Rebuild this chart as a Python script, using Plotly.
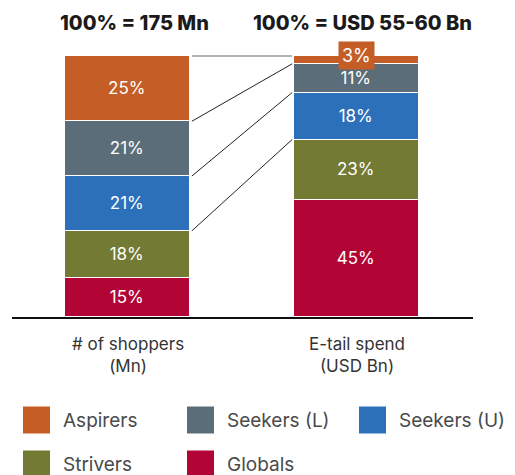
import plotly.graph_objects as go

# Segment shares (%) for each column
segments = ["Globals", "Strivers", "Seekers (U)", "Seekers (L)", "Aspirers"]
shoppers_pct = [15, 18, 21, 21, 25]
spend_pct = [45, 23, 18, 11, 3]
colors = {
    "Aspirers": "#C45E26",
    "Seekers (L)": "#5B6D78",
    "Seekers (U)": "#2B70B9",
    "Strivers": "#727A33",
    "Globals": "#B20535",
}
column_labels = ["# of shoppers<br>(Mn)", "E-tail spend<br>(USD Bn)"]
column_titles = ["100% = 175 Mn", "100% = USD 55-60 Bn"]
legend_rows = [["Aspirers", "Seekers (L)", "Seekers (U)"], ["Strivers", "Globals"]]

W, H = 515, 475
ML, MR, MT, MB = 12, 42, 40, 158
PLOT_W = W - ML - MR
PLOT_H = H - MT - MB
BAR_W = 0.546
XPOS = [0, 1]
X_RANGE = [-0.5044, 1.5087]
Y_MAX = PLOT_H / 2.61

FONT = "Inter"


def px(x):
    return (x - ML) / PLOT_W


def py(y):
    return (H - MB - y) / PLOT_H


fig = go.Figure()

for i, seg in enumerate(segments):
    vals = [shoppers_pct[i], spend_pct[i]]
    texts = [f"{v}%" if v >= 5 else "" for v in vals]
    fig.add_trace(go.Bar(
        x=XPOS, y=vals, width=BAR_W, name=seg,
        marker=dict(color=colors[seg], line=dict(color="white", width=1.5)),
        text=texts, textposition="inside", insidetextanchor="middle",
        constraintext="none",
        textfont=dict(family=FONT, size=17, color="white"),
        hoverinfo="skip", showlegend=False,
    ))

# Small segments get their label on a tab above the bar
for col, vals in enumerate([shoppers_pct, spend_pct]):
    for i, v in enumerate(vals):
        if v < 5:
            top = sum(vals[: i + 1])
            fig.add_annotation(
                x=XPOS[col], y=top, xref="x", yref="y",
                xanchor="center", yanchor="middle",
                text=f"{v}%", showarrow=False, yshift=1,
                font=dict(family=FONT, size=18, color="white"),
                bgcolor=colors[segments[i]], borderpad=3,
            )

# Connectors between matching segment boundaries
gap = 0.008
cum_a, cum_b = 0, 0
for i in range(len(segments)):
    cum_a += shoppers_pct[i]
    cum_b += spend_pct[i]
    if i == 0:
        continue
    fig.add_shape(
        type="line", xref="x", yref="y",
        x0=XPOS[0] + BAR_W / 2 + gap, y0=cum_a,
        x1=XPOS[1] - BAR_W / 2 - gap, y1=cum_b,
        line=dict(color="#222222" if i < len(segments) - 1 else "#666666", width=1),
    )

# Column titles
for col, t in enumerate(column_titles):
    fig.add_annotation(
        x=px([134, 362][col]), y=py(23), xref="paper", yref="paper",
        xanchor="center", yanchor="middle",
        text=t, showarrow=False,
        font=dict(family=FONT, size=20, color="#1a1a1a", weight=800),
    )

# Column labels under the baseline
for col, t in enumerate(column_labels):
    fig.add_annotation(
        x=XPOS[col], y=py(332), xref="x", yref="paper",
        xanchor="center", yanchor="top",
        text=t, showarrow=False, align="center",
        font=dict(family=FONT, size=17, color="#333333"),
    )

# Legend drawn as swatches with labels
col_x = [23, 187, 359]
row_y = [420, 464]
for r, row in enumerate(legend_rows):
    for c, seg in enumerate(row):
        x0 = col_x[c]
        yc = row_y[r]
        fig.add_shape(
            type="rect", xref="paper", yref="paper",
            x0=px(x0), x1=px(x0 + 27), y0=py(yc - 13.5), y1=py(yc + 13.5),
            fillcolor=colors[seg], line=dict(width=0),
        )
        fig.add_annotation(
            x=px(x0 + 38), y=py(yc), xref="paper", yref="paper",
            xanchor="left", yanchor="middle", text=seg, showarrow=False,
            font=dict(family=FONT, size=19, color="#4a4a4a"),
        )

fig.update_layout(
    barmode="stack",
    width=W, height=H,
    margin=dict(l=ML, r=MR, t=MT, b=MB),
    paper_bgcolor="white", plot_bgcolor="white",
    xaxis=dict(range=X_RANGE, showticklabels=False, showgrid=False, zeroline=False,
               showline=True, linecolor="#111111", linewidth=2, ticks=""),
    yaxis=dict(range=[0, Y_MAX], visible=False),
    bargap=0,
)

fig.write_html("out.html")
